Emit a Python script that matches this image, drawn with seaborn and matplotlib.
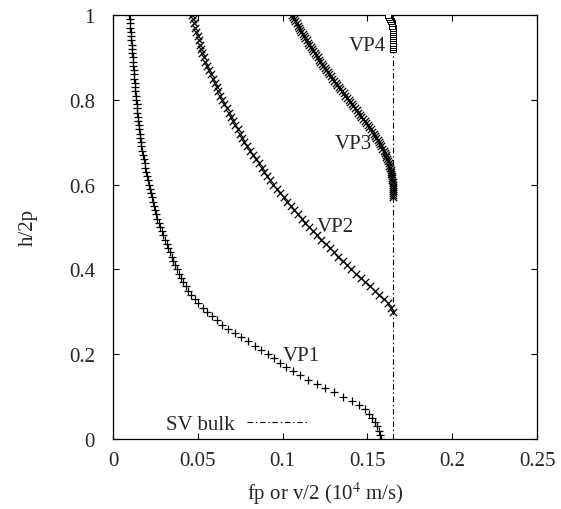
import matplotlib
matplotlib.use('Agg')
import matplotlib.pyplot as plt
from matplotlib.lines import Line2D
from matplotlib.ticker import FuncFormatter
import seaborn as sns

sns.set_theme(style='ticks')
plt.rcParams['font.family'] = ['Liberation Serif', 'DejaVu Serif']
plt.rcParams['mathtext.fontset'] = 'stix'

# h/2p (vertical axis) and fp or v/2 (horizontal axis)
vp1_h = [0.00, 0.01, 0.02, 0.03, 0.04, 0.05, 0.06, 0.07, 0.08, 0.09,
         0.10, 0.11, 0.12, 0.13, 0.14, 0.15, 0.16, 0.17, 0.18, 0.19,
         0.20, 0.21, 0.22, 0.23, 0.24, 0.25, 0.26, 0.27, 0.28, 0.29,
         0.30, 0.31, 0.32, 0.33, 0.34, 0.35, 0.36, 0.37, 0.38, 0.39,
         0.40, 0.41, 0.42, 0.43, 0.44, 0.45, 0.46, 0.47, 0.48, 0.49,
         0.50, 0.51, 0.52, 0.53, 0.54, 0.55, 0.56, 0.57, 0.58, 0.59,
         0.60, 0.61, 0.62, 0.63, 0.64, 0.65, 0.66, 0.67, 0.68, 0.69,
         0.70, 0.71, 0.72, 0.73, 0.74, 0.75, 0.76, 0.77, 0.78, 0.79,
         0.80, 0.81, 0.82, 0.83, 0.84, 0.85, 0.86, 0.87, 0.88, 0.89,
         0.90, 0.91, 0.92, 0.93, 0.94, 0.95, 0.96, 0.97, 0.98, 0.99, 1.00]
vp1_x = [0.1580, 0.1575, 0.1566, 0.1555, 0.1542, 0.1527, 0.1508, 0.1484, 0.1452, 0.1410,
         0.1358, 0.1304, 0.1252, 0.1201, 0.1150, 0.1102, 0.1060, 0.1021, 0.0984, 0.0948,
         0.0912, 0.0875, 0.0836, 0.0796, 0.0756, 0.0717, 0.0680, 0.0645, 0.0612, 0.0582,
         0.0554, 0.0528, 0.0504, 0.0482, 0.0462, 0.0444, 0.0428, 0.0414, 0.0401, 0.0389,
         0.0378, 0.0367, 0.0356, 0.0346, 0.0336, 0.0326, 0.0316, 0.0306, 0.0296, 0.0287,
         0.0278, 0.0270, 0.0262, 0.0255, 0.0248, 0.0241, 0.0234, 0.0228, 0.0222, 0.0217,
         0.0212, 0.0206, 0.0201, 0.0196, 0.0191, 0.0186, 0.0181, 0.0177, 0.0172, 0.0168,
         0.0165, 0.0162, 0.0159, 0.0156, 0.0153, 0.0150, 0.0147, 0.0144, 0.0141, 0.0139,
         0.0136, 0.0134, 0.0132, 0.0130, 0.0128, 0.0126, 0.0124, 0.0122, 0.0120, 0.0118,
         0.0116, 0.0114, 0.0112, 0.0110, 0.0108, 0.0106, 0.0104, 0.0102, 0.0100, 0.0098, 0.0096]

vp2_h = [0.30, 0.31, 0.32, 0.33, 0.34, 0.35, 0.36, 0.37, 0.38, 0.39,
         0.40, 0.41, 0.42, 0.43, 0.44, 0.45, 0.46, 0.47, 0.48, 0.49,
         0.50, 0.51, 0.52, 0.53, 0.54, 0.55, 0.56, 0.57, 0.58, 0.59,
         0.60, 0.61, 0.62, 0.63, 0.64, 0.65, 0.66, 0.67, 0.68, 0.69,
         0.70, 0.71, 0.72, 0.73, 0.74, 0.75, 0.76, 0.77, 0.78, 0.79,
         0.80, 0.81, 0.82, 0.83, 0.84, 0.85, 0.86, 0.87, 0.88, 0.89,
         0.90, 0.91, 0.92, 0.93, 0.94, 0.95, 0.96, 0.97, 0.98, 0.99, 1.00]
vp2_x = [0.1650, 0.1640, 0.1622, 0.1598, 0.1570, 0.1544, 0.1516, 0.1488, 0.1460, 0.1432,
         0.1404, 0.1379, 0.1354, 0.1329, 0.1304, 0.1279, 0.1254, 0.1229, 0.1204, 0.1179,
         0.1154, 0.1133, 0.1112, 0.1091, 0.1070, 0.1049, 0.1028, 0.1007, 0.0986, 0.0965,
         0.0944, 0.0927, 0.0910, 0.0893, 0.0876, 0.0859, 0.0842, 0.0825, 0.0808, 0.0791,
         0.0774, 0.0761, 0.0748, 0.0735, 0.0722, 0.0709, 0.0696, 0.0683, 0.0670, 0.0657,
         0.0644, 0.0633, 0.0622, 0.0611, 0.0600, 0.0589, 0.0578, 0.0567, 0.0556, 0.0545,
         0.0534, 0.0527, 0.0520, 0.0513, 0.0506, 0.0499, 0.0492, 0.0485, 0.0478, 0.0471, 0.0464]

vp3_h = [0.570, 0.575, 0.580, 0.585, 0.590, 0.595, 0.600, 0.605, 0.610, 0.615,
         0.620, 0.625, 0.630, 0.635, 0.640, 0.645, 0.650, 0.655, 0.660, 0.665,
         0.670, 0.675, 0.680, 0.685, 0.690, 0.695, 0.700, 0.705, 0.710, 0.715,
         0.720, 0.725, 0.730, 0.735, 0.740, 0.745, 0.750, 0.755, 0.760, 0.765,
         0.770, 0.775, 0.780, 0.785, 0.790, 0.795, 0.800, 0.805, 0.810, 0.815,
         0.820, 0.825, 0.830, 0.835, 0.840, 0.845, 0.850, 0.855, 0.860, 0.865,
         0.870, 0.875, 0.880, 0.885, 0.890, 0.895, 0.900, 0.905, 0.910, 0.915,
         0.920, 0.925, 0.930, 0.935, 0.940, 0.945, 0.950, 0.955, 0.960, 0.965,
         0.970, 0.975, 0.980, 0.985, 0.990, 0.995, 1.000]
vp3_x = [0.1650, 0.1650, 0.1650, 0.1650, 0.1650, 0.1649, 0.1649, 0.1648, 0.1647, 0.1645,
         0.1644, 0.1642, 0.1640, 0.1637, 0.1634, 0.1630, 0.1627, 0.1622, 0.1618, 0.1612,
         0.1607, 0.1601, 0.1595, 0.1588, 0.1582, 0.1575, 0.1568, 0.1560, 0.1553, 0.1545,
         0.1537, 0.1528, 0.1520, 0.1511, 0.1502, 0.1493, 0.1484, 0.1474, 0.1465, 0.1455,
         0.1446, 0.1436, 0.1427, 0.1417, 0.1408, 0.1398, 0.1389, 0.1379, 0.1370, 0.1360,
         0.1351, 0.1341, 0.1332, 0.1322, 0.1313, 0.1303, 0.1294, 0.1285, 0.1276, 0.1267,
         0.1258, 0.1249, 0.1240, 0.1231, 0.1223, 0.1214, 0.1206, 0.1197, 0.1189, 0.1181,
         0.1173, 0.1165, 0.1157, 0.1149, 0.1141, 0.1133, 0.1126, 0.1118, 0.1111, 0.1103,
         0.1096, 0.1089, 0.1082, 0.1075, 0.1068, 0.1061, 0.1054]

vp4_h = [0.920, 0.925, 0.930, 0.935, 0.940, 0.945, 0.950, 0.955, 0.960,
         0.965, 0.970, 0.975, 0.980, 0.985, 0.990, 0.995, 1.000]
vp4_x = [0.1650, 0.1650, 0.1650, 0.1650, 0.1650, 0.1650, 0.1650, 0.1650, 0.1650,
         0.1649, 0.1648, 0.1646, 0.1643, 0.1639, 0.1634, 0.1628, 0.1622]

sv_bulk = 0.165

x_ticks = [0, 0.05, 0.1, 0.15, 0.2, 0.25]
y_ticks = [0, 0.2, 0.4, 0.6, 0.8, 1]

fs = 15

fig = plt.figure(figsize=(5.61, 5.10), dpi=100)
ax = fig.add_axes([113 / 561, 70 / 510, 424 / 561, 424 / 510])

sns.scatterplot(x=vp1_x, y=vp1_h, marker='+', s=40, color='black', linewidth=0.9, ax=ax)
sns.scatterplot(x=vp2_x, y=vp2_h, marker='x', s=28, color='black', linewidth=0.9, ax=ax)
sns.scatterplot(x=vp3_x, y=vp3_h, marker='x', s=28, color='black', linewidth=0.9, ax=ax)
sns.scatterplot(x=vp4_x, y=vp4_h, marker='s', s=22, facecolor='white', edgecolor='black',
                linewidth=0.7, ax=ax, zorder=3)

dash = (5, 2.5, 1.2, 2.5)
ax.axvline(sv_bulk, color='black', linewidth=0.8, dashes=dash, zorder=1)

ax.text(0.100, 0.197, 'VP1', fontsize=fs, va='center', ha='left')
ax.text(0.120, 0.500, 'VP2', fontsize=fs, va='center', ha='left')
ax.text(0.131, 0.696, 'VP3', fontsize=fs, va='center', ha='left')
ax.text(0.139, 0.928, 'VP4', fontsize=fs, va='center', ha='left')

handle = Line2D([], [], color='black', linewidth=0.8, dashes=dash)
ax.legend(handles=[handle], labels=['SV bulk'], loc='lower left', bbox_to_anchor=(0.085, -0.028),
          frameon=False, markerfirst=False, handlelength=3.0, fontsize=fs,
          borderpad=0.3, handletextpad=0.6)

ax.set_xlim(0, 0.25)
ax.set_ylim(0, 1)
ax.set_xticks(x_ticks)
ax.set_yticks(y_ticks)
fmt = FuncFormatter(lambda v, p: '%g' % v)
ax.xaxis.set_major_formatter(fmt)
ax.yaxis.set_major_formatter(fmt)
ax.tick_params(direction='in', length=4.5, width=0.8, labelsize=fs, top=True, right=True,
               color='black')
ax.tick_params(axis='y', pad=13)
ax.tick_params(axis='x', pad=9)
for s in ax.spines.values():
    s.set_linewidth(0.9)
    s.set_color('black')

ax.set_xlabel('fp or v/2 (10$^4$ m/s)', fontsize=fs, labelpad=6)
ax.set_ylabel('h/2p', fontsize=fs, labelpad=22)

fig.savefig('out.png', dpi=100)
